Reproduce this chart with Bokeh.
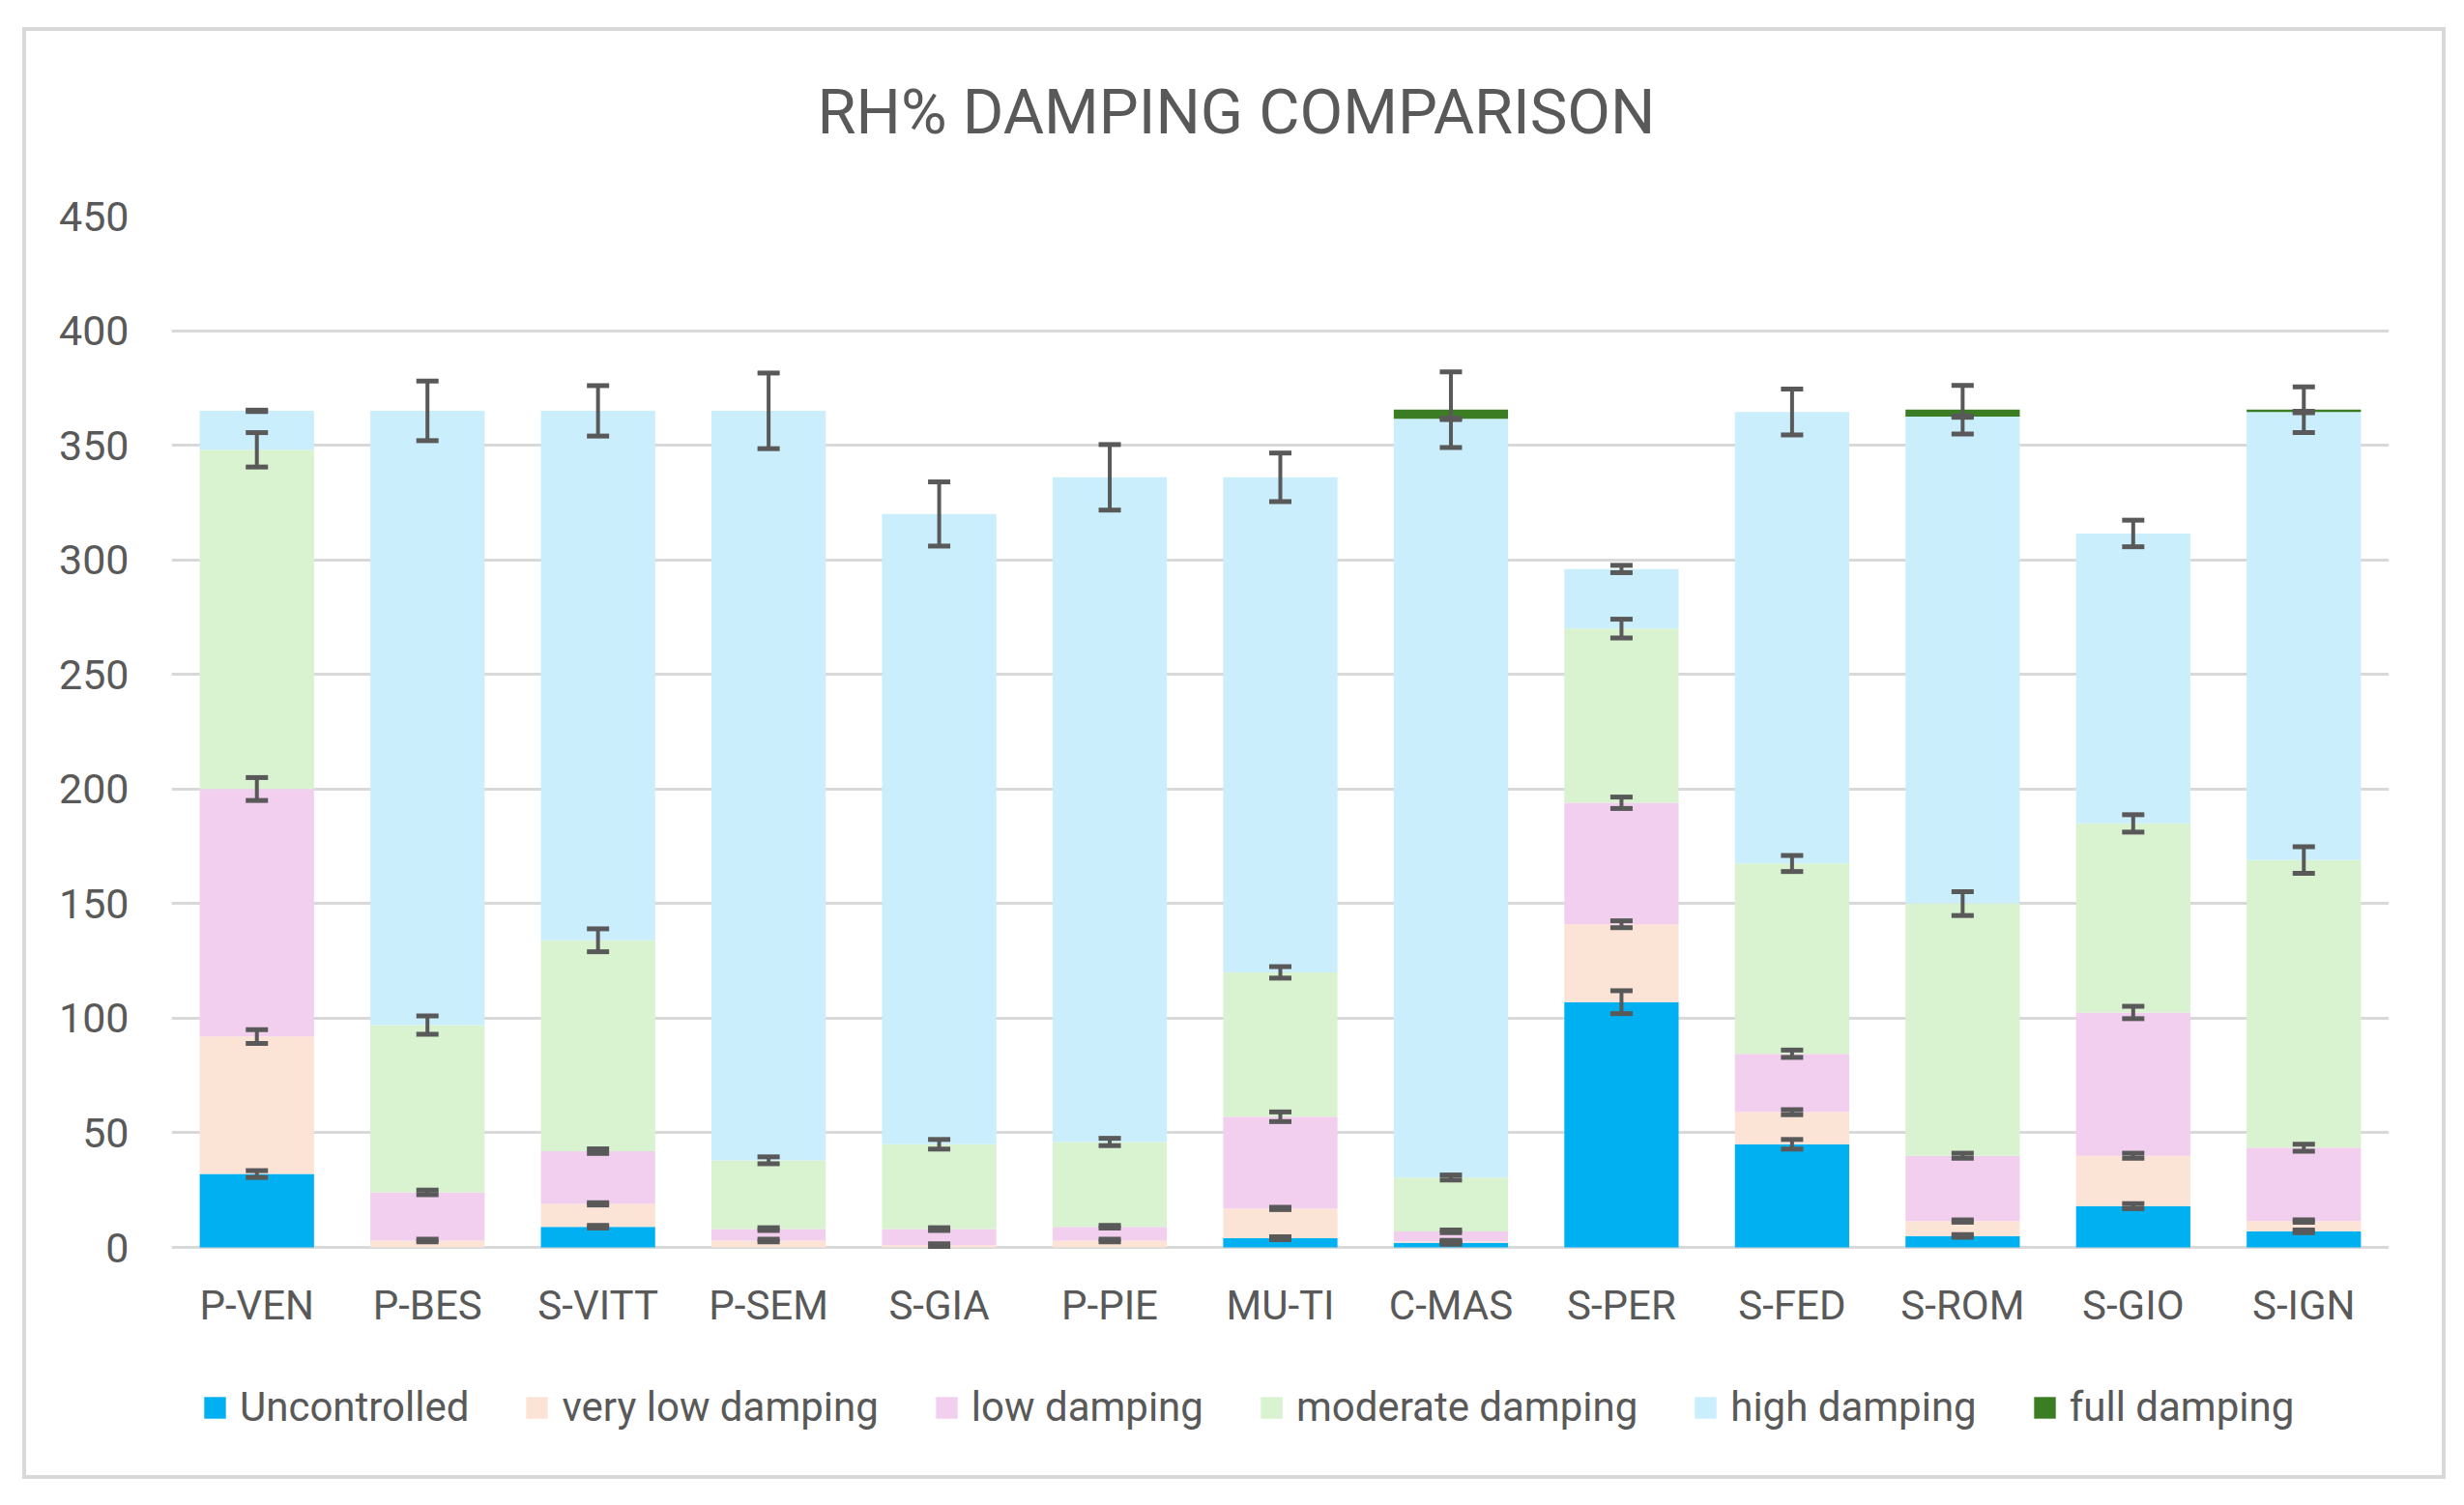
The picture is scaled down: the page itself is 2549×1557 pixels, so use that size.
import numpy as np
from bokeh.plotting import figure
from bokeh.models import (ColumnDataSource, Whisker, TeeHead, Legend, LegendItem,
                          FixedTicker, Range1d, FactorRange, Title)
from bokeh.core.properties import value
from bokeh.embed import file_html
from bokeh.resources import INLINE

categories = ["P-VEN", "P-BES", "S-VITT", "P-SEM", "S-GIA", "P-PIE", "MU-TI",
              "C-MAS", "S-PER", "S-FED", "S-ROM", "S-GIO", "S-IGN"]

series_names = ["Uncontrolled", "very low damping", "low damping",
                "moderate damping", "high damping", "full damping"]

y_ticks = [0, 50, 100, 150, 200, 250, 300, 350, 400, 450]

uncontrolled = [32, 0, 9, 0, 0, 0, 4, 2, 107, 45, 5, 18, 7]
very_low = [60, 3, 10, 3, 1, 3, 13, 0.5, 34, 14, 6.5, 22, 4.5]
low = [108, 21, 23, 5, 7, 6, 40, 4.5, 53, 25.5, 28.5, 62.5, 32]
moderate = [148, 73, 92, 30, 37, 37, 63, 23.5, 76, 83, 110, 82.5, 125.5]
high = [17, 268, 231, 327, 275, 290, 216, 331, 26, 197, 212.5, 126.5, 195.5]
full = [0, 0, 0, 0, 0, 0, 0, 4, 0, 0, 3, 0, 1]

err_uncontrolled = [1.5, 0, 0.6, 0, 0, 0, 0.6, 0.6, 5.0, 2.1, 0.6, 1.1, 0.6]
err_very_low = [3.0, 0.6, 0.5, 0.6, 0.6, 0.6, 0.5, 0.6, 1.5, 1.1, 0.5, 1.1, 0.5]
err_low = [5.0, 1.0, 1.0, 0.6, 0.6, 0.6, 2.1, 0.6, 2.5, 1.6, 1.1, 2.7, 1.5]
err_moderate = [7.5, 4.0, 5.0, 1.5, 2.1, 1.6, 2.5, 1.1, 4.1, 3.5, 5.2, 3.8, 5.8]
err_high = [0.3, 13.0, 11.0, 16.5, 14.0, 14.3, 10.6, 0.3, 1.6, 10.0, 0.3, 5.8, 0.3]
err_full = [0, 0, 0, 0, 0, 0, 0, 16.5, 0, 0, 10.6, 0, 10.0]

colors = ["#00B0F0", "#FBE3D6", "#F2CFEE", "#D9F2D0", "#CAEEFB", "#3B7D23"]
text_color = "#595959"
font = "Roboto"

series = [uncontrolled, very_low, low, moderate, high, full]
errors = [err_uncontrolled, err_very_low, err_low, err_moderate, err_high, err_full]
keys = ["s%d" % i for i in range(len(series))]

data = {"cat": categories}
for k, s in zip(keys, series):
    data[k] = s
source = ColumnDataSource(data)

# geometry (canvas pixels): frame spans the value axis plus room below it
W, H = 2499, 1494
frame_left, frame_right, frame_top = 150, 2444, 191
zero_px, frame_bottom = 1258, 1470
px_per_unit = (zero_px - frame_top) / (y_ticks[-1] - y_ticks[0])
y_start = -(frame_bottom - zero_px) / px_per_unit

p = figure(x_range=FactorRange(*categories, range_padding=0),
           y_range=Range1d(y_start, y_ticks[-1]),
           width=W, height=H, output_backend="svg", toolbar_location=None, title=None,
           x_axis_location=None,
           min_border_left=frame_left, min_border_right=W - frame_right,
           min_border_top=frame_top, min_border_bottom=H - frame_bottom)
p.margin = (32, 0, 0, 27)
p.styles = {"box-shadow": "0 0 0 4px #D9D9D9"}
p.outline_line_color = None
p.background_fill_color = "white"
p.border_fill_color = "white"

renderers = p.vbar_stack(keys, x="cat", width=0.67, color=colors, source=source,
                         line_color=None)

# error bars at the cumulative top of each segment
cum = np.zeros(len(categories))
for s, e in zip(series, errors):
    s = np.array(s, dtype=float)
    e = np.array(e, dtype=float)
    cum = cum + s
    mask = s > 0
    if not mask.any():
        continue
    cats = [c for c, m in zip(categories, mask) if m]
    src = ColumnDataSource(dict(x=cats, upper=list((cum + e)[mask]), lower=list((cum - e)[mask])))
    w = Whisker(source=src, base="x", upper="upper", lower="lower", dimension="height",
                line_color="#595959", line_width=4, level="overlay",
                upper_head=TeeHead(size=23, line_color="#595959", line_width=5),
                lower_head=TeeHead(size=23, line_color="#595959", line_width=5))
    p.add_layout(w)

# y axis
p.yaxis.ticker = FixedTicker(ticks=y_ticks)
p.yaxis.axis_line_color = None
p.yaxis.major_tick_line_color = None
p.yaxis.minor_tick_line_color = None
p.yaxis.major_label_text_font = font
p.yaxis.major_label_text_color = text_color
p.yaxis.major_label_text_font_size = "43px"
p.yaxis.major_label_standoff = 38
p.xgrid.grid_line_color = None
p.ygrid.grid_line_color = "#D9D9D9"
p.ygrid.grid_line_width = 3

# category labels under the baseline
lab_src = ColumnDataSource(dict(x=categories, y=[y_ticks[0]] * len(categories), t=categories))
p.text(x="x", y="y", text="t", source=lab_src, y_offset=60, text_align="center",
       text_baseline="alphabetic", text_font=value(font), text_font_size="42px",
       text_color=text_color)

# title (a blank spacer title sits between the frame and the real title)
p.add_layout(Title(text=" ", text_font_size="48px"), "above")
p.add_layout(Title(text="RH% DAMPING COMPARISON", align="left", offset=668,
                   text_font=font, text_font_size="65px", text_font_style="normal",
                   text_color=text_color), "above")

legend = Legend(items=[LegendItem(label=n, renderers=[r]) for n, r in zip(series_names, renderers)],
                orientation="horizontal", location=(31, 22),
                glyph_width=28, glyph_height=28, label_standoff=12, spacing=56,
                padding=0, margin=0, border_line_color=None, background_fill_alpha=0,
                label_text_font=font, label_text_font_size="42px", label_text_color=text_color)
p.add_layout(legend, "center")

open("out.html", "w").write(file_html(p, INLINE))
